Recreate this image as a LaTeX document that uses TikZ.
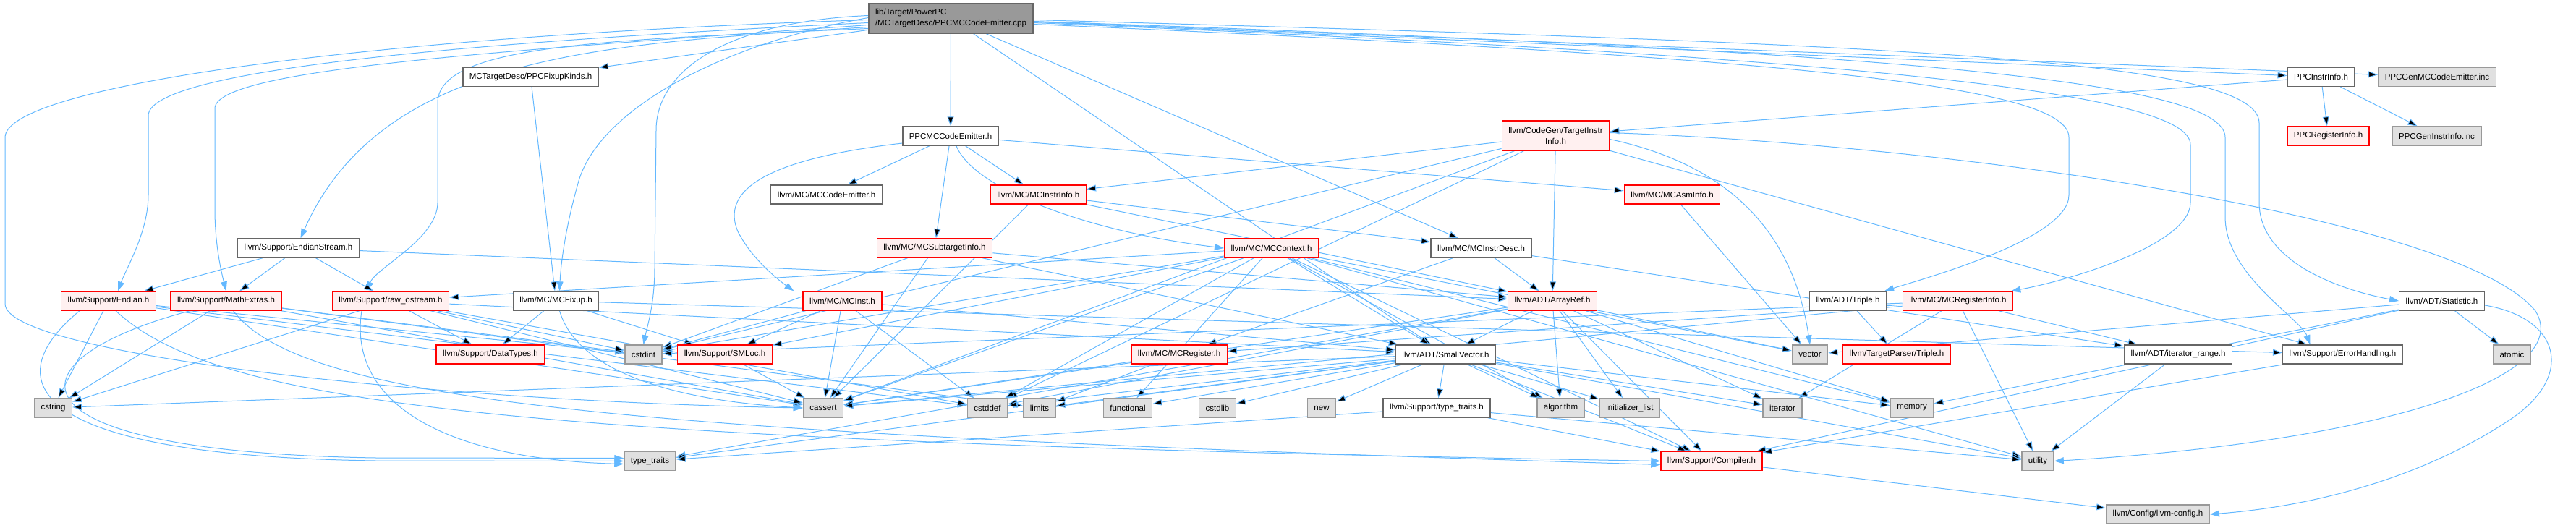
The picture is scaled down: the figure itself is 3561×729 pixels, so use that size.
\documentclass[tikz,border=0pt]{standalone}
\usepackage{fontspec}
\setmainfont{Liberation Sans}
\usetikzlibrary{arrows.meta,positioning}
\pgfdeclarelayer{bg}
\pgfsetlayers{bg,main}
\definecolor{edgeblue}{HTML}{63B8FF}
\definecolor{redfill}{HTML}{FFF0F0}
\definecolor{sysfill}{HTML}{E0E0E0}
\definecolor{sysline}{HTML}{999999}
\definecolor{rootfill}{HTML}{999999}
\definecolor{boxline}{HTML}{666666}
\tikzset{
  file/.style={
    draw = boxline,
    fill = white,
    line width = 1.4pt,
    inner xsep = 9pt,
    inner ysep = 2pt,
    minimum height = 26pt,
    font = \fontsize{11.5}{15}\selectfont
  },
  trunc/.style={
    file,
    draw = red,
    fill = redfill
  },
  sys/.style={
    file,
    draw = sysline,
    fill = sysfill
  },
  topfile/.style={
    file,
    fill = rootfill,
    align = left,
    minimum height = 41pt
  },
  dep/.style={
    draw = edgeblue,
    line width = 1pt,
    -{Triangle[length=13pt,width=9pt]}
  }
}
\begin{document}
\begin{tikzpicture}[x=1pt,y=-1pt]
\useasboundingbox (0,0) rectangle (3561,729);

% row 1 - 3
\node[topfile] (root) at (1314.5,25.5) {lib/Target/PowerPC\\/MCTargetDesc/PPCMCCodeEmitter.cpp};
\node[file] (fixk) at (733.5,106.5) {MCTargetDesc/PPCFixupKinds.h};
\node[file] (ppcii) at (3208.5,106.5) {PPCInstrInfo.h};
\node[sys] (genmce) at (3369,106.5) {PPCGenMCCodeEmitter.inc};
\node[file] (ppcmce) at (1314,188) {PPCMCCodeEmitter.h};
\node[trunc, align=center, minimum height=41pt] (tii) at (2150.5,187.5) {llvm/CodeGen/TargetInstr\\Info.h};
\node[trunc] (ppcri) at (3218.5,188) {PPCRegisterInfo.h};
\node[sys] (genii) at (3368.5,188) {PPCGenInstrInfo.inc};

% row 4 - 6
\node[file] (mcce) at (1142.5,269) {llvm/MC/MCCodeEmitter.h};
\node[trunc] (mcii) at (1435.5,269) {llvm/MC/MCInstrInfo.h};
\node[trunc] (mcasm) at (2311.5,269) {llvm/MC/MCAsmInfo.h};
\node[file] (estream) at (412.5,343) {llvm/Support/EndianStream.h};
\node[trunc] (mcsti) at (1292,343) {llvm/MC/MCSubtargetInfo.h};
\node[trunc] (mcctx) at (1757.5,343) {llvm/MC/MCContext.h};
\node[file] (mcid) at (2047.5,343) {llvm/MC/MCInstrDesc.h};
\node[trunc] (endian) at (150,416) {llvm/Support/Endian.h};
\node[trunc] (mathx) at (312.5,416) {llvm/Support/MathExtras.h};
\node[trunc] (rawos) at (540,416) {llvm/Support/raw\_ostream.h};
\node[file] (mcfix) at (768.5,416) {llvm/MC/MCFixup.h};
\node[trunc] (mcinst) at (1164.5,416) {llvm/MC/MCInst.h};
\node[trunc] (aref) at (2146,416) {llvm/ADT/ArrayRef.h};
\node[file] (atriple) at (2554.5,416) {llvm/ADT/Triple.h};
\node[trunc] (mcri) at (2706.5,416) {llvm/MC/MCRegisterInfo.h};
\node[file] (stat) at (3375.5,416) {llvm/ADT/Statistic.h};

% row 7
\node[trunc] (dtypes) at (678,490) {llvm/Support/DataTypes.h};
\node[sys] (cstdint) at (889.5,490) {cstdint};
\node[trunc] (smloc) at (1002,490) {llvm/Support/SMLoc.h};
\node[trunc] (mcreg) at (1630,490) {llvm/MC/MCRegister.h};
\node[file] (svec) at (1998.5,490) {llvm/ADT/SmallVector.h};
\node[sys] (vector) at (2502,490) {vector};
\node[trunc] (tptriple) at (2622,490) {llvm/TargetParser/Triple.h};
\node[file] (irange) at (3011,490) {llvm/ADT/iterator\_range.h};
\node[file] (errh) at (3238.5,490) {llvm/Support/ErrorHandling.h};
\node[sys] (atomic) at (3472.5,490) {atomic};

% row 8 - 10
\node[sys] (cstring) at (73.5,564) {cstring};
\node[sys] (cassert) at (1138,564) {cassert};
\node[sys] (cstddef) at (1365,564) {cstddef};
\node[sys] (limits) at (1437,564) {limits};
\node[sys] (functional) at (1559,564) {functional};
\node[sys] (cstdlib) at (1683,564) {cstdlib};
\node[sys] (new) at (1827,564) {new};
\node[file] (ttraits) at (1986,564) {llvm/Support/type\_traits.h};
\node[sys] (algorithm) at (2157.5,564) {algorithm};
\node[sys] (initlist) at (2253,564) {initializer\_list};
\node[sys] (iterator) at (2464,564) {iterator};
\node[sys] (memory) at (2643,564) {memory};
\node[sys] (typetraits) at (898.5,637.5) {type\_traits};
\node[trunc] (compiler) at (2366,637.5) {llvm/Support/Compiler.h};
\node[sys] (utility) at (2817,637.5) {utility};
\node[sys] (llvmcfg) at (2983,711) {llvm/Config/llvm-config.h};

\begin{pgfonlayer}{bg}
% root file
\path[dep] (root) edge (ppcmce) edge (fixk) edge (ppcii) edge (genmce) edge (svec) edge (mcid);
\draw[dep] ([yshift=-2pt]root.west) .. controls (500,50) and (7,120) .. (7,190) -- (7,420) .. controls (7,490) and (600,555) .. (cassert.west);
\draw[dep] ([yshift=-6pt]root.west) .. controls (600,60) and (205,100) .. (205,160) -- (205,270) .. controls (205,320) and (175,370) .. ([xshift=13pt]endian.north);
\draw[dep] ([yshift=-9pt]root.west) .. controls (700,70) and (297,95) .. (297,150) -- (297,290) .. controls (297,340) and (307,380) .. (mathx.north);
\draw[dep] ([yshift=-12pt]root.west) .. controls (850,60) and (530,70) .. ([xshift=3pt]estream.north);
\draw[dep] ([yshift=-14pt]root.west) .. controls (850,55) and (610,60) .. (605,140) -- (605,280) .. controls (605,330) and (520,370) .. ([xshift=-33pt]rawos.north);
\draw[dep] ([yshift=4pt]root.west) .. controls (1000,30) and (907,100) .. (907,180) -- (905,370) .. controls (905,420) and (895,450) .. (cstdint.north);
\draw[dep] ([yshift=1pt]root.west) .. controls (1000,60) and (830,150) .. (800,250) .. controls (780,320) and (775,370) .. ([xshift=5pt]mcfix.north);
\draw[dep] ([yshift=-2pt]root.east) .. controls (2600,60) and (3123,80) .. (3123,170) -- (3123,280) .. controls (3123,360) and (3230,400) .. (stat.west);
\draw[dep] ([yshift=-4pt]root.east) .. controls (2600,70) and (3076,110) .. (3076,190) -- (3076,300) .. controls (3076,380) and (3180,440) .. ([xshift=-45pt]errh.north);
\draw[dep] ([yshift=-6pt]root.east) .. controls (2600,80) and (3028,130) .. (3028,200) -- (3028,280) .. controls (3028,340) and (2850,390) .. ([xshift=-3pt]mcri.north east);
\draw[dep] ([yshift=-8pt]root.east) .. controls (2500,80) and (2860,120) .. (2860,190) -- (2860,270) .. controls (2860,330) and (2660,385) .. ([xshift=-3pt]atriple.north east);

% second level
\path[dep] (fixk) edge (mcfix);
\path[dep] (ppcmce) edge (mcce) edge (mcii) edge (mcsti) edge (mcasm);
\draw[dep] ([xshift=8pt]ppcmce.south) .. controls (1345,260) and (1500,320) .. (mcctx.west);
\draw[dep] ([yshift=-10pt]ppcmce.west) .. controls (1100,215) and (990,250) .. (1020,320) .. controls (1040,360) and (1080,390) .. ([xshift=-67pt]mcinst.north);
\path[dep] (ppcii) edge (tii) edge (ppcri) edge (genii);
\path[dep] (tii) edge (mcii) edge (aref) edge (cassert) edge (cstddef) edge (cstdint) edge (errh);
\draw[dep] ([yshift=-5pt]tii.east) .. controls (2400,230) and (2480,330) .. (vector.north);
\draw[dep] ([yshift=4pt]tii.east) .. controls (2700,200) and (3400,300) .. (3505,430) .. controls (3560,520) and (3300,610) .. (utility.east);
\path[dep] (mcii) edge (mcid) edge (aref) edge (cassert);
\path[dep] (mcasm) edge (vector);
\path[dep] (estream) edge (endian) edge (mathx) edge (rawos) edge (aref);
\path[dep] (mcsti) edge (aref) edge (svec) edge (cassert) edge (cstdint);
\path[dep] (mcctx) edge (rawos) edge (svec) edge (smloc) edge (cassert) edge (cstddef) edge (cstdint)
  edge (functional) edge (algorithm) edge (memory) edge (utility) edge (vector) edge (compiler);
\path[dep] (mcid) edge (aref) edge (mcreg) edge (irange);

% support headers
\path[dep] (endian) edge (cstring) edge (cassert) edge (cstddef) edge (cstdint);
\draw[dep] ([xshift=-40pt]endian.south) .. controls (0,520) and (20,630) .. (520,637) -- (typetraits.west);
\draw[dep] ([xshift=10pt]endian.south) .. controls (300,560) and (700,610) .. (compiler.west);
\path[dep] (mathx) edge (cstring) edge (cassert) edge (cstdint) edge (limits);
\draw[dep] ([xshift=-50pt]mathx.south) .. controls (0,500) and (0,625) .. (520,633) -- ([yshift=4pt]typetraits.west);
\draw[dep] ([xshift=10pt]mathx.south) .. controls (420,560) and (900,600) .. ([yshift=-5pt]compiler.west);
\path[dep] (rawos) edge (dtypes) edge (cassert) edge (cstddef) edge (cstdint) edge (cstring) edge (svec);
\draw[dep] ([xshift=-40pt]rawos.south) .. controls (480,560) and (620,635) .. ([yshift=-4pt]typetraits.west);
\path[dep] (mcfix) edge (dtypes) edge (smloc) edge (errh);
\draw[dep] ([xshift=5pt]mcfix.south) .. controls (800,520) and (950,555) .. (cassert.west);
\path[dep] (mcinst) edge (svec) edge (smloc) edge (cassert) edge (cstddef) edge (cstdint);
\path[dep] (aref) edge (svec) edge (algorithm) edge (cassert) edge (cstddef) edge (initlist)
  edge (iterator) edge (memory) edge (vector) edge (compiler) edge (typetraits);
\path[dep] (atriple) edge (tptriple);
\path[dep] (mcri) edge (mcreg) edge (irange) edge (cassert) edge (cstdint) edge (iterator) edge (utility);
\path[dep] (stat) edge (atomic) edge (memory) edge (vector) edge (compiler);
\draw[dep] ([yshift=-6pt]stat.east) .. controls (3540,440) and (3560,520) .. (3470,580) .. controls (3350,660) and (3200,700) .. (llvmcfg.east);
\path[dep] (smloc) edge (cassert);
\path[dep] (mcreg) edge (cassert) edge (limits);
\path[dep] (svec) edge (compiler) edge (ttraits) edge (algorithm) edge (cassert) edge (cstddef) edge (cstdlib)
  edge (cstring) edge (functional) edge (initlist) edge (iterator) edge (limits) edge (memory) edge (new)
  edge (typetraits) edge (utility);
\path[dep] (ttraits) edge (typetraits) edge (utility) edge (compiler);
\path[dep] (irange) edge (utility);
\path[dep] (errh) edge (compiler);
\path[dep] (compiler) edge (llvmcfg);
\end{pgfonlayer}
\end{tikzpicture}
\end{document}
